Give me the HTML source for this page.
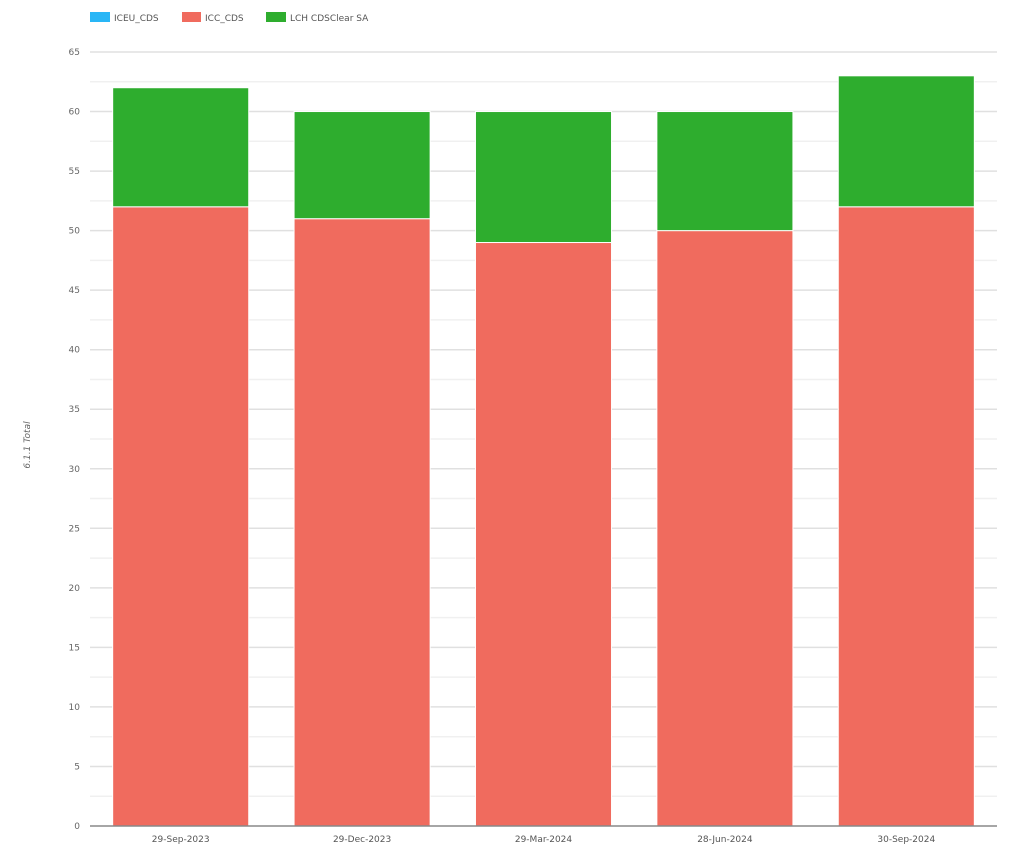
<!DOCTYPE html>
<html><head><meta charset="utf-8"><style>
body{margin:0;background:#fff;width:1024px;height:860px;overflow:hidden;font-family:"DejaVu Sans","Liberation Sans",sans-serif}
</style></head><body>
<svg id="chart" width="1024" height="860" xmlns="http://www.w3.org/2000/svg">
<g id="legend" font-size="9" fill="#555">
<g><rect x="90" y="12" width="20" height="10" fill="#29b6f6"/><text x="114" y="21">ICEU_CDS</text></g>
<g><rect x="182" y="12" width="19" height="10" fill="#f06b5e"/><text x="205" y="21">ICC_CDS</text></g>
<g><rect x="266" y="12" width="20" height="10" fill="#2ead2e"/><text x="290" y="21">LCH CDSClear SA</text></g>
</g>
<text transform="translate(30,445) rotate(-90)" text-anchor="middle" font-size="9" font-style="italic" fill="#666">6.1.1 Total</text>
<g id="grid"></g><g id="bars"></g><g id="axes"></g>
</svg>
<script>
const categories=["29-Sep-2023","29-Dec-2023","29-Mar-2024","28-Jun-2024","30-Sep-2024"];
const iceu=[0,0,0,0,0];
const icc=[52,51,49,50,52];
const lch=[10,9,11,10,11];
const yTicks=[0,5,10,15,20,25,30,35,40,45,50,55,60,65];
const NS="http://www.w3.org/2000/svg";
const X0=90,X1=997,Y0=826,Y1=52,YMAX=65;
const y=v=>Y0-(v/YMAX)*(Y0-Y1);
const band=(X1-X0)/categories.length;
const bx=i=>X0+band*i+band*0.125;
const bw=band*0.75;
function mk(t,a,p){const e=document.createElementNS(NS,t);for(const k in a)e.setAttribute(k,a[k]);p.appendChild(e);return e;}
const grid=document.getElementById('grid'),bars=document.getElementById('bars'),axes=document.getElementById('axes');
for(let v=0;v<=YMAX;v+=2.5){if(v===0)continue;const l=mk('line',{x1:X0,x2:X1,y1:y(v),y2:y(v),stroke:v%5===0?'#e0e0e0':'#f0f0f0','stroke-width':1.5},grid);

}
yTicks.forEach(v=>{const t=mk('text',{x:X0-10,y:y(v)+3,'text-anchor':'end','font-size':9,fill:'#666'},axes);t.textContent=v;

});
categories.forEach((c,i)=>{
let base=0;
[[iceu,'#29b6f6','iceu'],[icc,'#f06b5e','icc'],[lch,'#2ead2e','lch']].forEach(([s,col,n])=>{
const v=s[i];if(v<=0)return;
const r=mk('rect',{x:bx(i),y:y(base+v),width:bw,height:y(base)-y(base+v),fill:col,stroke:'#fff','stroke-width':1},bars);


base+=v;});
const t=mk('text',{x:X0+band*(i+0.5),y:Y0+16,'text-anchor':'middle','font-size':9,fill:'#555'},axes);t.textContent=c;

});
const ax=mk('line',{x1:X0,x2:X1,y1:Y0,y2:Y0,stroke:'#888','stroke-width':1.5},axes);


</script>
</body></html>
